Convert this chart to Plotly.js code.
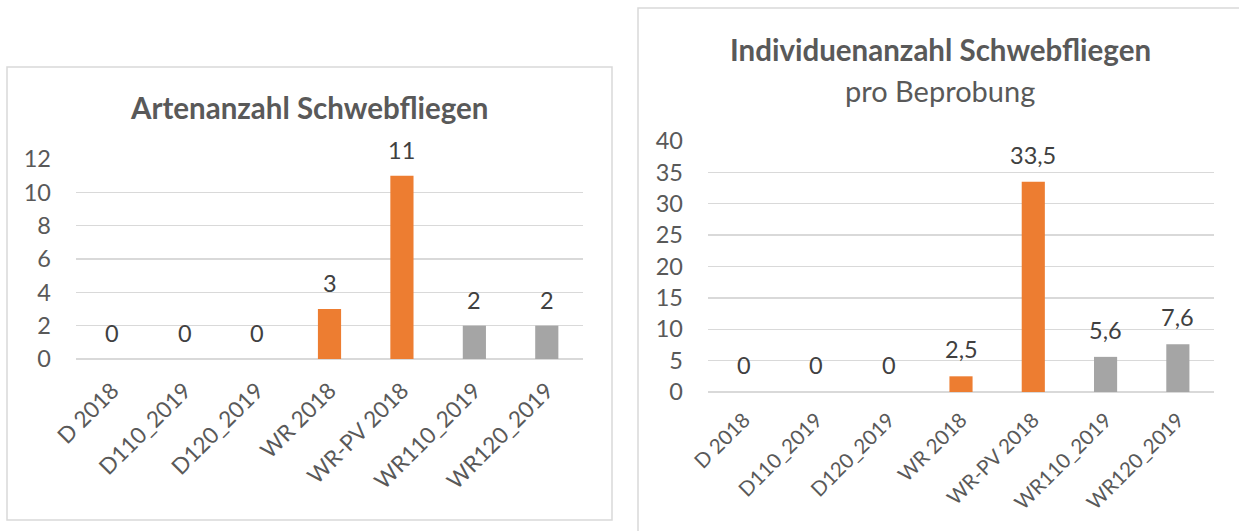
<!DOCTYPE html>
<html><head><meta charset="utf-8">
<script src="https://cdn.plot.ly/plotly-3.0.1.min.js"></script>
<style>html,body{margin:0;padding:0;background:#fff}#chart{width:1239px;height:531px}</style>
</head><body><div id="chart"></div>
<script>
const categories = ['D 2018','D110_2019','D120_2019','WR 2018','WR-PV 2018','WR110_2019','WR120_2019'];
const artenanzahl = [0,0,0,3,11,2,2];
const individuenanzahl = [0,0,0,2.5,33.5,5.6,7.6];
const barColors = ['#4472C4','#4472C4','#4472C4','#ED7D31','#ED7D31','#A5A5A5','#A5A5A5'];
const leftTicks = [0,2,4,6,8,10,12];
const rightTicks = [0,5,10,15,20,25,30,35,40];
const leftTitle = 'Artenanzahl Schwebfliegen';
const rightTitle = 'Individuenanzahl Schwebfliegen';
const rightSubtitle = 'pro Beprobung';

const W = 1239, H = 531;
const px = x => x / W;
const py = y => 1 - y / H;
const FONT = 'Lato, Carlito, Calibri, sans-serif';
const GREY = '#595959';
const GRID = '#D9D9D9';
const fmt = v => String(v).replace('.', ',');

function yaxisCfg(ticks, top, bottom) {
  return {
    domain: [py(bottom), py(top)],
    range: [ticks[0], ticks[ticks.length - 1]],
    tickvals: ticks, ticktext: ticks.map(String),
    showgrid: true, gridcolor: GRID, gridwidth: 1.3,
    zeroline: true, zerolinecolor: GRID, zerolinewidth: 1.3,
    showline: false, ticks: '', ticklabelstandoff: 24,
    tickfont: {family: FONT, size: 23.5, color: GREY},
    fixedrange: true
  };
}
function xaxisCfg(left, right, anchor, fsize, standoff) {
  return {
    domain: [px(left), px(right)],
    type: 'category', categoryorder: 'array', categoryarray: categories,
    range: [-0.5, categories.length - 0.5],
    showgrid: false, zeroline: false, showline: false, ticks: '',
    tickangle: -45, ticklabelstandoff: standoff,
    tickfont: {family: FONT, size: fsize, color: GREY},
    anchor: anchor, fixedrange: true
  };
}

const traces = [
  {type: 'bar', x: categories, y: artenanzahl, xaxis: 'x', yaxis: 'y',
   marker: {color: barColors}, width: 0.32, hoverinfo: 'skip'},
  {type: 'bar', x: categories, y: individuenanzahl, xaxis: 'x2', yaxis: 'y2',
   marker: {color: barColors}, width: 0.32, hoverinfo: 'skip'}
];

const labelFont = {family: FONT, size: 23.5, color: '#404040'};
const annotations = [];
categories.forEach((c, i) => {
  annotations.push({x: c, y: artenanzahl[i], xref: 'x', yref: 'y', text: fmt(artenanzahl[i]),
    showarrow: false, yshift: 26, yanchor: 'middle', font: labelFont});
  annotations.push({x: c, y: individuenanzahl[i], xref: 'x2', yref: 'y2', text: fmt(individuenanzahl[i]),
    showarrow: false, yshift: 27, yanchor: 'middle', font: labelFont});
});
annotations.push({text: '<b>' + leftTitle + '</b>', xref: 'paper', yref: 'paper', x: px(309), y: py(107),
  xanchor: 'center', yanchor: 'middle', showarrow: false, font: {family: FONT, size: 29.5, color: GREY}});
annotations.push({text: '<b>' + rightTitle + '</b>', xref: 'paper', yref: 'paper', x: px(940), y: py(50),
  xanchor: 'center', yanchor: 'middle', showarrow: false, font: {family: FONT, size: 29.5, color: GREY}});
annotations.push({text: rightSubtitle, xref: 'paper', yref: 'paper', x: px(940), y: py(90),
  xanchor: 'center', yanchor: 'middle', showarrow: false, font: {family: FONT, size: 29, color: GREY}});

const shapes = [
  {type: 'rect', xref: 'paper', yref: 'paper', x0: px(7), x1: px(612), y0: py(520), y1: py(67),
   line: {color: GRID, width: 1.5}, fillcolor: 'rgba(0,0,0,0)', layer: 'below'},
  {type: 'rect', xref: 'paper', yref: 'paper', x0: px(638), x1: px(1250), y0: py(545), y1: py(8),
   line: {color: GRID, width: 1.5}, fillcolor: 'rgba(0,0,0,0)', layer: 'below'}
];

const layout = {
  width: W, height: H,
  margin: {l: 0, r: 0, t: 0, b: 0},
  paper_bgcolor: '#fff', plot_bgcolor: 'rgba(0,0,0,0)',
  showlegend: false, hovermode: false,
  xaxis: xaxisCfg(76, 583, 'y', 22.5, 13),
  yaxis: yaxisCfg(leftTicks, 159, 359),
  xaxis2: xaxisCfg(708, 1214, 'y2', 20.5, 11),
  yaxis2: Object.assign(yaxisCfg(rightTicks, 141, 392), {anchor: 'x2'}),
  annotations: annotations,
  shapes: shapes
};
layout.yaxis.anchor = 'x';

Plotly.newPlot('chart', traces, layout, {staticPlot: true, displayModeBar: false});
</script>
</body></html>
